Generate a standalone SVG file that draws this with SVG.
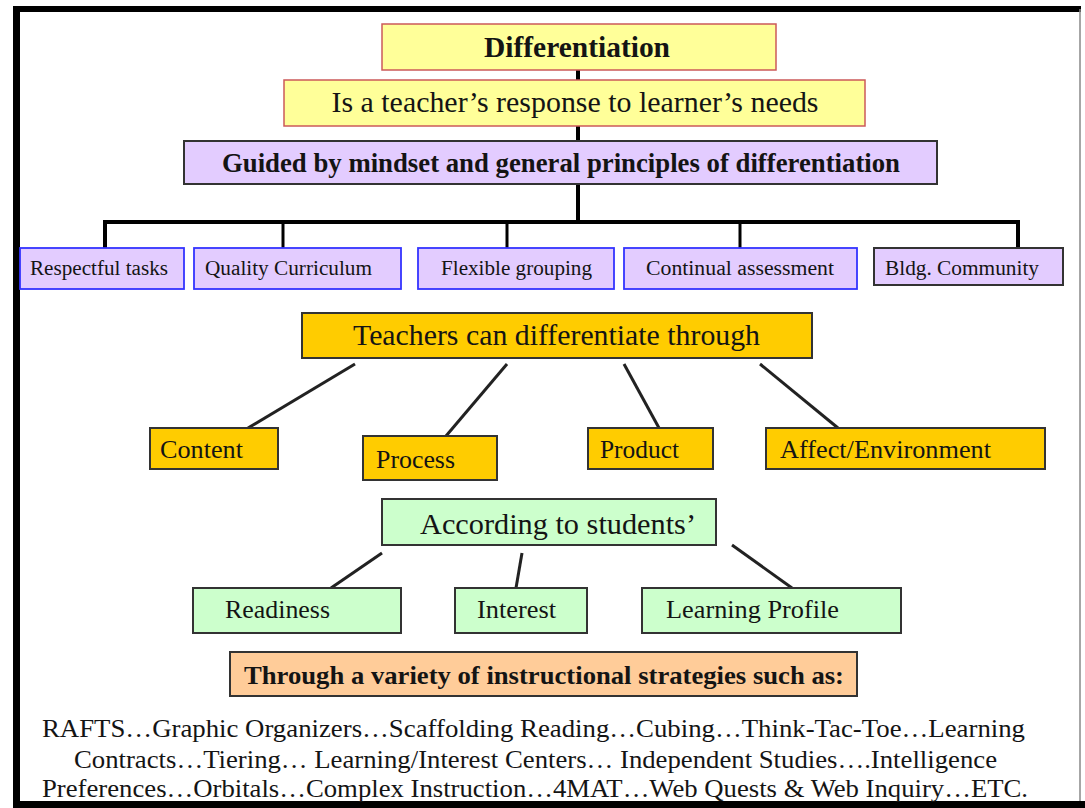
<svg xmlns="http://www.w3.org/2000/svg" width="1085" height="808" viewBox="0 0 1085 808">
<style>
  text { font-family: "Liberation Serif", "Times New Roman", serif; fill: #141414; }
  .b { font-weight: bold; }
  .c { text-anchor: middle; }
  .yel { fill: #FFFF99; stroke: #CC5A5A; stroke-width: 1.5; }
  .lav { fill: #E3CCFF; stroke: #333333; stroke-width: 2; }
  .lavb { fill: #E3CCFF; stroke: #3333FF; stroke-width: 1.8; }
  .org { fill: #FFCC00; stroke: #333333; stroke-width: 2; }
  .grn { fill: #CCFFCC; stroke: #333333; stroke-width: 2; }
  .pch { fill: #FFCC99; stroke: #333333; stroke-width: 2; }
  .thick { stroke: #000; stroke-width: 4; fill: none; }
  .mid { stroke: #000; stroke-width: 3; fill: none; }
  .diag { stroke: #222; stroke-width: 3; fill: none; }
</style>
<rect x="0" y="0" width="1085" height="808" fill="#ffffff"/>
<g id="frame">
  <line x1="16.5" y1="6" x2="16.5" y2="808" stroke="#000" stroke-width="7"/>
  <line x1="13" y1="9" x2="1081" y2="9" stroke="#000" stroke-width="6"/>
  <line x1="13" y1="804.5" x2="1085" y2="804.5" stroke="#000" stroke-width="7"/>
  <line x1="1080" y1="9" x2="1080" y2="801" stroke="#888" stroke-width="1.5"/>
</g>
<g id="connectors">
  <line class="thick" x1="578" y1="70" x2="578" y2="80"/>
  <line class="thick" x1="578" y1="126" x2="578" y2="141"/>
  <line class="thick" x1="578" y1="184" x2="578" y2="222"/>
  <polyline class="thick" points="105,249 105,222 1018,222 1018,249"/>
  <line class="mid" x1="283" y1="222" x2="283" y2="249"/>
  <line class="mid" x1="507" y1="222" x2="507" y2="249"/>
  <line class="mid" x1="740" y1="222" x2="740" y2="249"/>
  <line class="diag" x1="355" y1="364" x2="248" y2="428"/>
  <line class="diag" x1="507" y1="364" x2="446" y2="436"/>
  <line class="diag" x1="624" y1="364" x2="659" y2="428"/>
  <line class="diag" x1="760" y1="364" x2="838" y2="428"/>
  <line class="diag" x1="382" y1="553" x2="331" y2="588"/>
  <line class="diag" x1="522" y1="553" x2="516" y2="588"/>
  <line class="diag" x1="732" y1="545" x2="792" y2="588"/>
</g>
<g id="differentiation">
  <rect class="yel" x="382" y="24" width="394" height="46"/>
  <text class="b c" x="577" y="57" font-size="30" textLength="186" lengthAdjust="spacingAndGlyphs">Differentiation</text>
</g>
<g id="response">
  <rect class="yel" x="284" y="80" width="581" height="46"/>
  <text class="c" x="575" y="112" font-size="30" textLength="487" lengthAdjust="spacingAndGlyphs">Is a teacher’s response to learner’s needs</text>
</g>
<g id="guided">
  <rect class="lav" x="184" y="141" width="753" height="43"/>
  <text class="b c" x="561" y="172" font-size="27" textLength="678" lengthAdjust="spacingAndGlyphs">Guided by mindset and general principles of differentiation</text>
</g>
<g id="respectful">
  <rect class="lavb" x="20" y="248" width="164" height="41"/>
  <text x="30" y="275" font-size="20" textLength="138" lengthAdjust="spacingAndGlyphs">Respectful tasks</text>
</g>
<g id="quality">
  <rect class="lavb" x="194" y="248" width="207" height="41"/>
  <text x="205" y="275" font-size="20" textLength="167" lengthAdjust="spacingAndGlyphs">Quality Curriculum</text>
</g>
<g id="flexible">
  <rect class="lavb" x="418" y="248" width="196" height="41"/>
  <text x="441" y="275" font-size="20" textLength="151" lengthAdjust="spacingAndGlyphs">Flexible grouping</text>
</g>
<g id="continual">
  <rect class="lavb" x="624" y="248" width="233" height="41"/>
  <text x="646" y="275" font-size="20" textLength="188" lengthAdjust="spacingAndGlyphs">Continual assessment</text>
</g>
<g id="community">
  <rect class="lav" x="874" y="248" width="189" height="37"/>
  <text x="885" y="275" font-size="20" textLength="154" lengthAdjust="spacingAndGlyphs">Bldg. Community</text>
</g>
<g id="teachers">
  <rect class="org" x="302" y="313" width="510" height="45"/>
  <text x="353" y="345" font-size="30" textLength="407" lengthAdjust="spacingAndGlyphs">Teachers can differentiate through</text>
</g>
<g id="content">
  <rect class="org" x="150" y="428" width="128" height="41"/>
  <text x="160" y="458" font-size="26" textLength="83" lengthAdjust="spacingAndGlyphs">Content</text>
</g>
<g id="process">
  <rect class="org" x="363" y="436" width="134" height="44"/>
  <text x="376" y="468" font-size="26" textLength="79" lengthAdjust="spacingAndGlyphs">Process</text>
</g>
<g id="product">
  <rect class="org" x="588" y="428" width="125" height="41"/>
  <text x="600" y="458" font-size="26" textLength="79" lengthAdjust="spacingAndGlyphs">Product</text>
</g>
<g id="affect">
  <rect class="org" x="766" y="428" width="279" height="41"/>
  <text x="780" y="458" font-size="26" textLength="211" lengthAdjust="spacingAndGlyphs">Affect/Environment</text>
</g>
<g id="according">
  <rect class="grn" x="382" y="499" width="334" height="46"/>
  <text x="420" y="534" font-size="30" textLength="276" lengthAdjust="spacingAndGlyphs">According to students’</text>
</g>
<g id="readiness">
  <rect class="grn" x="193" y="588" width="208" height="45"/>
  <text x="225" y="618" font-size="26" textLength="105" lengthAdjust="spacingAndGlyphs">Readiness</text>
</g>
<g id="interest">
  <rect class="grn" x="455" y="588" width="132" height="45"/>
  <text x="477" y="618" font-size="26" textLength="79" lengthAdjust="spacingAndGlyphs">Interest</text>
</g>
<g id="profile">
  <rect class="grn" x="642" y="588" width="259" height="45"/>
  <text x="666" y="618" font-size="26" textLength="173" lengthAdjust="spacingAndGlyphs">Learning Profile</text>
</g>
<g id="through">
  <rect class="pch" x="230" y="652" width="627" height="44"/>
  <text class="b" x="244" y="684" font-size="26" textLength="600" lengthAdjust="spacingAndGlyphs">Through a variety of instructional strategies such as:</text>
</g>
<g id="strategies">
  <text x="42" y="737" font-size="26" textLength="983" lengthAdjust="spacingAndGlyphs">RAFTS…Graphic Organizers…Scaffolding Reading…Cubing…Think-Tac-Toe…Learning</text>
  <text x="74" y="768" font-size="26" textLength="923" lengthAdjust="spacingAndGlyphs">Contracts…Tiering… Learning/Interest Centers… Independent Studies….Intelligence</text>
  <text x="42" y="797" font-size="26" textLength="986" lengthAdjust="spacingAndGlyphs">Preferences…Orbitals…Complex Instruction…4MAT…Web Quests &amp; Web Inquiry…ETC.</text>
</g>
</svg>
